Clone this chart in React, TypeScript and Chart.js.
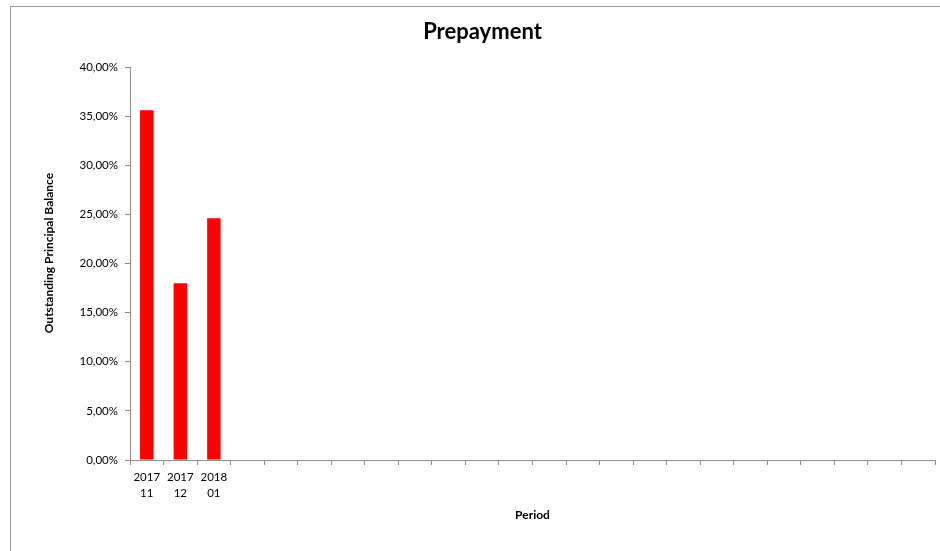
import React, { useEffect, useRef } from "react";
import { Chart, registerables } from "chart.js";

Chart.register(...registerables);

const chartTitle = "Prepayment";
const yAxisTitle = "Outstanding Principal Balance";
const xAxisTitle = "Period";
const categories: (string | string[])[] = [
  ["2017", "11"], ["2017", "12"], ["2018", "01"],
  "", "", "", "", "", "", "", "", "", "", "", "", "", "", "", "", "", "", "", "", "",
];
const prepaymentValues: (number | null)[] = [
  0.356, 0.180, 0.246,
  null, null, null, null, null, null, null, null, null, null, null, null, null, null, null, null, null, null, null, null, null,
];
const yMin = 0;
const yMax = 0.4;
const yStep = 0.05;

const FONT = "Lato, 'Open Sans', sans-serif";
const AXIS_GRAY = "#8c8c8c";

export default function App() {
  const canvasRef = useRef<HTMLCanvasElement | null>(null);

  useEffect(() => {
    if (!canvasRef.current) return;
    const chart = new Chart(canvasRef.current, {
      type: "bar",
      data: {
        labels: categories,
        datasets: [
          {
            label: chartTitle,
            data: prepaymentValues,
            backgroundColor: "#ff0000",
            borderWidth: 0,
            categoryPercentage: 1,
            barPercentage: 0.4,
          },
        ],
      },
      options: {
        animation: false,
        responsive: true,
        maintainAspectRatio: false,
        layout: { padding: { left: 0, right: 0, top: 0, bottom: 0 } },
        plugins: {
          legend: { display: false },
          tooltip: { enabled: false },
          title: {
            display: true,
            text: chartTitle,
            color: "#000",
            font: { family: FONT, size: 22, weight: "bold", lineHeight: 1.2 },
            padding: { top: 12, bottom: 21.6 },
          },
        },
        scales: {
          x: {
            type: "category",
            offset: true,
            grid: {
              display: true,
              drawOnChartArea: false,
              drawTicks: true,
              tickLength: 5,
              color: AXIS_GRAY,
              offset: true,
            },
            border: { display: true, color: AXIS_GRAY, width: 1 },
            ticks: {
              color: "#000",
              autoSkip: false,
              maxRotation: 0,
              minRotation: 0,
              padding: 5,
              font: { family: FONT, size: 11.5, lineHeight: 1.35 },
            },
            title: {
              display: true,
              text: xAxisTitle,
              color: "#000",
              font: { family: FONT, size: 12, weight: "bold", lineHeight: 1.2 },
              padding: { top: 0, bottom: 29 },
            },
            afterFit: (scale: any) => {
              scale.height = 91;
              scale.paddingRight = 19;
            },
          },
          y: {
            type: "linear",
            min: yMin,
            max: yMax,
            grid: {
              display: true,
              drawOnChartArea: false,
              drawTicks: true,
              tickLength: 5,
              color: AXIS_GRAY,
            },
            border: { display: true, color: AXIS_GRAY, width: 1 },
            ticks: {
              stepSize: yStep,
              color: "#000",
              padding: 7,
              font: { family: FONT, size: 11.5 },
              callback: (v: any) => (Number(v) * 100).toFixed(2).replace(".", ",") + "%",
            },
            title: {
              display: true,
              text: "\u2003\u2003 " + yAxisTitle,
              color: "#000",
              font: { family: FONT, size: 12, weight: "bold", lineHeight: 1.2 },
              padding: { top: 31, bottom: 0 },
            },
            afterFit: (scale: any) => {
              scale.width = 119;
            },
          },
        },
      },
    });
    return () => chart.destroy();
  }, []);

  return (
    <div
      style={{
        position: "fixed",
        left: 0,
        top: 0,
        width: 940,
        height: 551,
        overflow: "hidden",
        background: "#fff",
      }}
    >
      <div
        style={{
          position: "absolute",
          left: 10,
          top: 6,
          width: 960,
          height: 570,
          borderLeft: "1px solid #9a9a9a",
          borderTop: "1px solid #9a9a9a",
          boxSizing: "border-box",
        }}
      />
      <div style={{ position: "absolute", left: 11, top: 7, width: 943, height: 544 }}>
        <canvas ref={canvasRef} />
      </div>
    </div>
  );
}
